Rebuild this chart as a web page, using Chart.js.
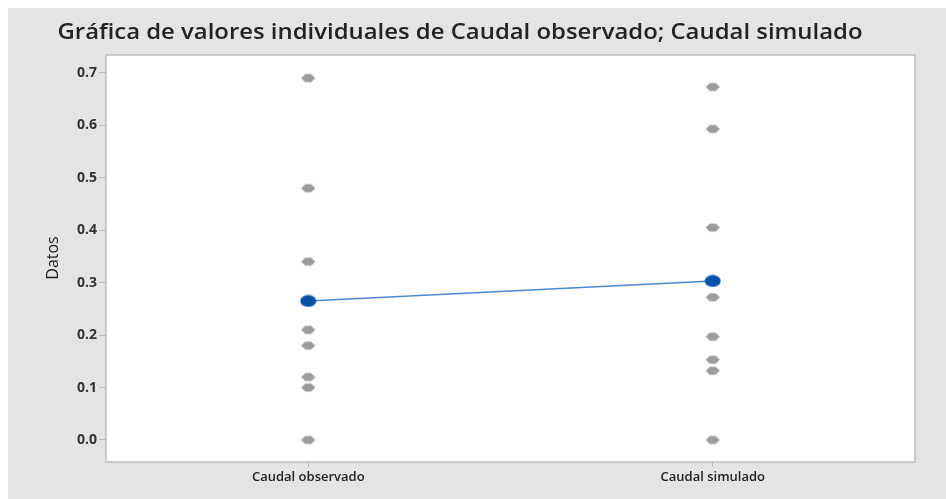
<!DOCTYPE html>
<html>
<head>
<meta charset="utf-8">
<script src="https://cdn.jsdelivr.net/npm/chart.js@4/dist/chart.umd.min.js"></script>
<style>
  html, body { margin: 0; padding: 0; background: #ffffff; }
  #marco { position: absolute; left: 8px; top: 8px; width: 938px; height: 491px; background: #e4e4e4; }
  canvas { display: block; }
</style>
</head>
<body>
<div id="marco"><canvas id="grafica" width="938" height="491"></canvas></div>
<script>
// categorías y valores individuales
const categorias = ["Caudal observado", "Caudal simulado"];
const caudalObservado = [0.69, 0.48, 0.34, 0.21, 0.18, 0.12, 0.10, 0.0];
const caudalSimulado = [0.673, 0.593, 0.405, 0.272, 0.197, 0.153, 0.132, 0.0];
const marcasY = [0.0, 0.1, 0.2, 0.3, 0.4, 0.5, 0.6, 0.7];

const titulo = "Gráfica de valores individuales de Caudal observado; Caudal simulado";
const tituloEjeY = "Datos";

function media(arr) {
  return arr.reduce((a, b) => a + b, 0) / arr.length;
}

// símbolo gris (hexágono achatado) y símbolo azul (elipse) para los puntos
function simboloGris() {
  const c = document.createElement("canvas");
  c.width = 16; c.height = 11;
  const g = c.getContext("2d");
  g.fillStyle = "#9c9c9c";
  g.filter = "blur(0.6px)";
  g.beginPath();
  g.moveTo(1, 5.5);
  g.lineTo(5, 1.5);
  g.lineTo(11, 1.5);
  g.lineTo(15, 5.5);
  g.lineTo(11, 9.5);
  g.lineTo(5, 9.5);
  g.closePath();
  g.fill();
  return c;
}

function simboloAzul() {
  const c = document.createElement("canvas");
  c.width = 17; c.height = 13;
  const g = c.getContext("2d");
  g.fillStyle = "#0652a6";
  g.beginPath();
  g.ellipse(8.5, 6.5, 8, 6, 0, 0, Math.PI * 2);
  g.fill();
  return c;
}

const puntoGris = simboloGris();
const puntoAzul = simboloAzul();

// marco del área de trazado, título y rótulo del eje Y
const marcoArea = {
  id: "marcoArea",
  beforeDraw(chart) {
    const { ctx, chartArea: a } = chart;
    ctx.save();
    ctx.fillStyle = "#ffffff";
    ctx.fillRect(a.left, a.top, a.right - a.left, a.bottom - a.top);
    ctx.restore();
  },
  afterDraw(chart) {
    const { ctx, chartArea: a } = chart;
    ctx.save();
    ctx.strokeStyle = "#bdbdbd";
    ctx.lineWidth = 1.5;
    ctx.strokeRect(a.left, a.top, a.right - a.left, a.bottom - a.top);

    // título, ajustado a 805 px de ancho
    ctx.fillStyle = "#222222";
    ctx.font = "600 22px 'Open Sans'";
    ctx.textAlign = "center";
    ctx.textBaseline = "middle";
    const ancho = ctx.measureText(titulo).width;
    ctx.translate(452, 25);
    ctx.scale(805 / ancho, 1);
    ctx.fillText(titulo, 0, 0);
    ctx.restore();

    ctx.save();
    ctx.fillStyle = "#1a1a1a";
    ctx.font = "16px 'Open Sans'";
    ctx.textAlign = "center";
    ctx.textBaseline = "middle";
    ctx.translate(45, 250);
    ctx.rotate(-Math.PI / 2);
    ctx.fillText(tituloEjeY, 0, 0);
    ctx.restore();
  }
};

const ctx = document.getElementById("grafica").getContext("2d");
new Chart(ctx, {
  type: "line",
  data: {
    labels: categorias,
    datasets: [
      {
        label: "Media",
        data: [media(caudalObservado), media(caudalSimulado)],
        borderColor: "#4a8ad4",
        borderWidth: 1.5,
        pointStyle: puntoAzul,
        order: 0
      },
      {
        label: "Caudal observado",
        data: caudalObservado.map((v) => ({ x: categorias[0], y: v })),
        showLine: false,
        pointStyle: puntoGris,
        order: 1
      },
      {
        label: "Caudal simulado",
        data: caudalSimulado.map((v) => ({ x: categorias[1], y: v })),
        showLine: false,
        pointStyle: puntoGris,
        order: 1
      }
    ]
  },
  options: {
    responsive: false,
    animation: false,
    layout: { padding: { top: 47, right: 31, left: 0, bottom: 0 } },
    plugins: {
      legend: { display: false },
      tooltip: { enabled: false },
      title: { display: false }
    },
    scales: {
      x: {
        type: "category",
        offset: true,
        grid: {
          display: true,
          drawOnChartArea: false,
          offset: false,
          tickLength: 5,
          color: "#bdbdbd"
        },
        border: { display: false },
        ticks: {
          color: "#222222",
          font: { family: "Open Sans", size: 13, weight: "600" },
          padding: 2
        },
        afterFit(scale) { scale.height = 37; }
      },
      y: {
        min: -0.042,
        max: 0.734,
        afterBuildTicks(scale) {
          scale.ticks = marcasY.map((v) => ({ value: v }));
        },
        grid: {
          display: true,
          drawOnChartArea: false,
          tickLength: 7,
          color: "#bdbdbd"
        },
        border: { display: false },
        ticks: {
          color: "#333333",
          font: { family: "Open Sans", size: 14, weight: "bold" },
          padding: 2,
          callback: (v) => Number(v).toFixed(1)
        },
        afterFit(scale) { scale.width = 98; }
      }
    }
  },
  plugins: [marcoArea]
});
</script>
</body>
</html>
